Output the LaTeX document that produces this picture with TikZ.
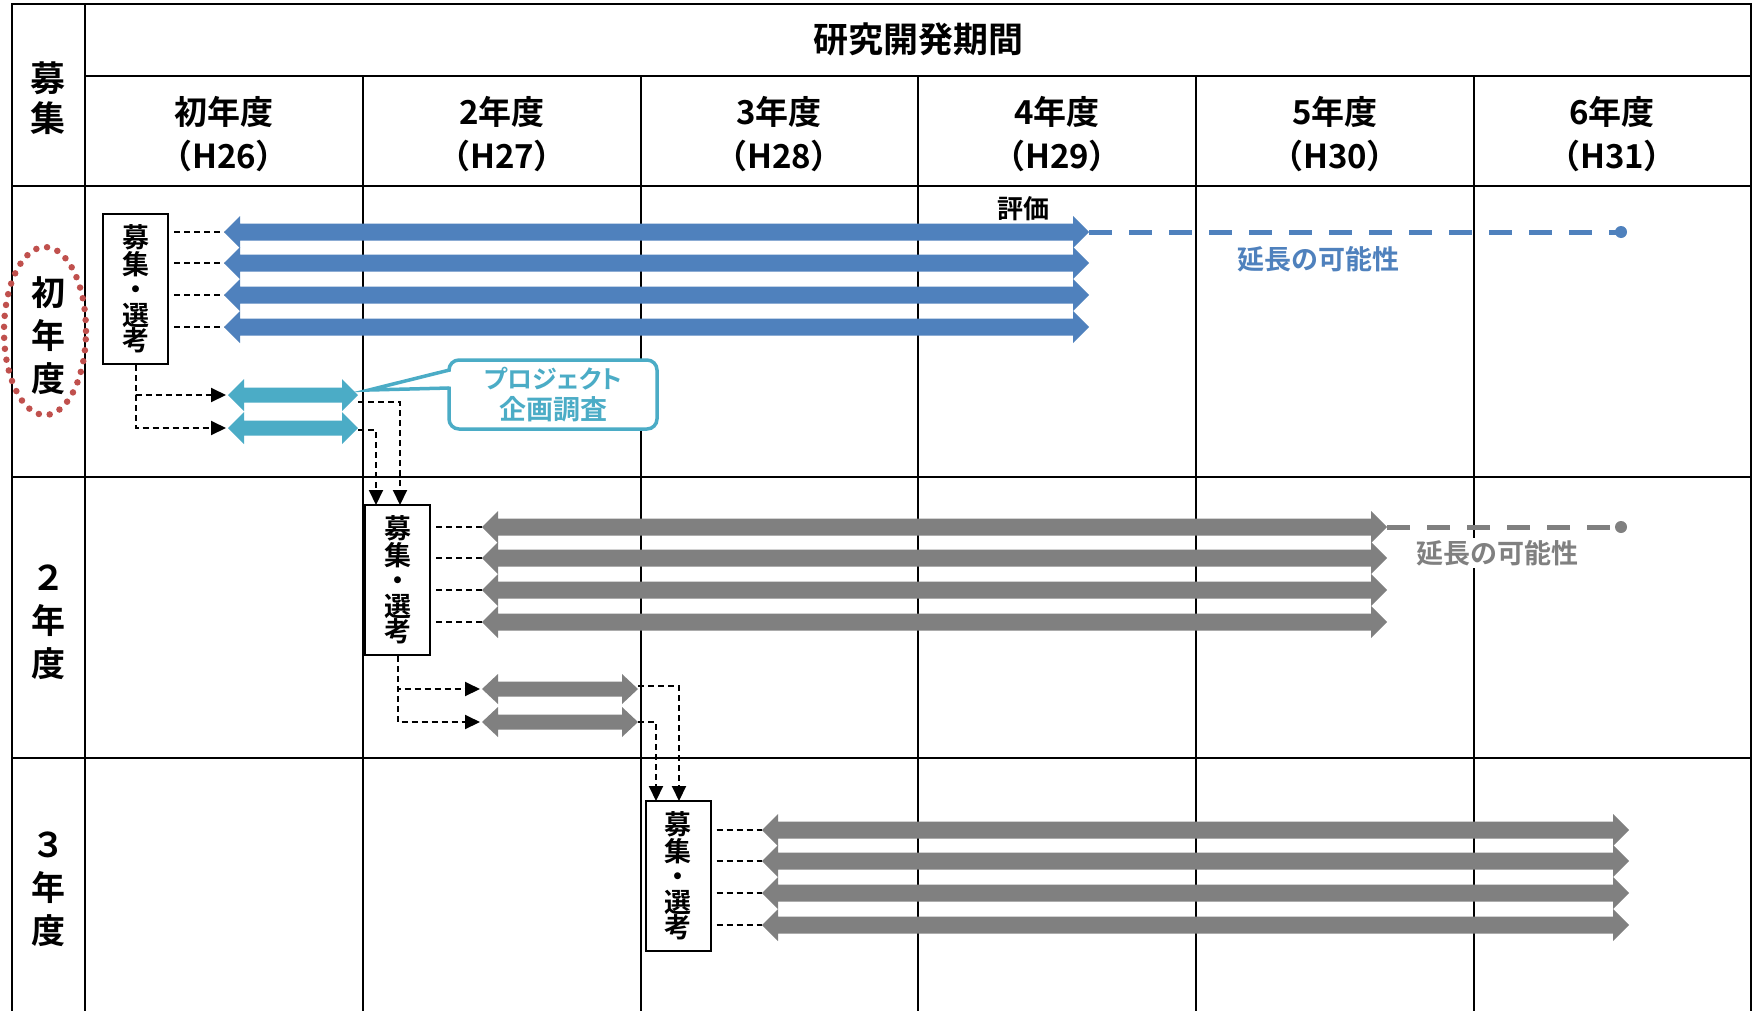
\documentclass[tikz,border=0pt]{standalone}
\usepackage{fontspec}
\setmainfont{Noto Sans CJK JP}[BoldFont={Noto Sans CJK JP Bold}]
\usetikzlibrary{arrows.meta}
\definecolor{cblue}{HTML}{4F81BD}
\definecolor{ccyan}{HTML}{4BACC6}
\definecolor{cgray}{HTML}{808080}
\definecolor{cred}{HTML}{C0504D}
% x1, x2, y, colour, half shaft, half head
\newcommand{\dblarrow}[6]{\fill[#4] (#1,#3) -- (#1+16,#3-#6) -- (#1+16,#3-#5) -- (#2-16,#3-#5) -- (#2-16,#3-#6) -- (#2,#3) -- (#2-16,#3+#6) -- (#2-16,#3+#5) -- (#1+16,#3+#5) -- (#1+16,#3+#6) -- cycle;}
\tikzset{
  grid/.style={line width=2.7pt, black, line cap=rect},
  hdr/.style={align=center, font=\bfseries\fontsize{33}{44}\selectfont, inner sep=0pt},
  vlab/.style={align=center, font=\bfseries\fontsize{34}{43}\selectfont, inner sep=0pt},
  selbox/.style={draw, line width=2pt, fill=white, minimum width=65pt, minimum height=150pt, inner sep=0pt, align=center, font=\bfseries\fontsize{27}{25.5}\selectfont},
  conn/.style={black, line width=2pt, dash pattern=on 6pt off 4pt},
  tip/.style={-{Triangle[length=15pt,width=14pt]}},
  ext/.style={line width=5pt, dash pattern=on 23pt off 17pt},
  lbl/.style={font=\bfseries\fontsize{27}{30}\selectfont, inner sep=2pt},
}
\begin{document}
\begin{tikzpicture}[x=1pt,y=-1pt]
\useasboundingbox (0,0) rectangle (1756,1010);
\fill[white] (0,0) rectangle (1756,1010);
% grid
\draw[grid] (12,1012) -- (12,4) -- (1751,4) -- (1751,1012);
\draw[grid] (85,4) -- (85,1012);
\draw[grid] (85,76) -- (1751,76);
\foreach \y in {186,477,758} \draw[grid] (12,\y) -- (1751,\y);
\foreach \x in {363,641,918,1196,1474} \draw[grid] (\x,76) -- (\x,1012);
% headers
\node[font=\bfseries\fontsize{35}{40}\selectfont, inner sep=0pt] (title) at (918,39) {研究開発期間};
\node[hdr] (h1) at (224,134) {初年度\\（H26）};
\node[hdr] (h2) at (502,134) {2年度\\（H27）};
\node[hdr] (h3) at (779,134) {3年度\\（H28）};
\node[hdr] (h4) at (1057,134) {4年度\\（H29）};
\node[hdr] (h5) at (1335,134) {5年度\\（H30）};
\node[hdr] (h6) at (1612,134) {6年度\\（H31）};
\node[vlab, font=\bfseries\fontsize{35}{40}\selectfont] (boshu) at (48,98) {募\\集};
\node[vlab] (r1) at (48,336) {初\\年\\度};
\node[vlab] (r2) at (48,622) {２\\年\\度};
\node[vlab] (r3) at (48,889) {３\\年\\度};
\draw[cred, line width=6.5pt, dash pattern=on 0pt off 11pt, line cap=round] (45,331) ellipse [x radius=41pt, y radius=84pt];
% selection boxes
\node[selbox] (s1) at (135.5,289) {募\\集\\・\\選\\考};
\node[selbox] (s2) at (397.5,580) {募\\集\\・\\選\\考};
\node[selbox] (s3) at (678,876) {募\\集\\・\\選\\考};
% row 1 arrows
\foreach \n/\y in {1/232,2/263,3/295,4/327} {
  \dblarrow{224}{1089}{\y}{cblue}{8.5}{16}
  \coordinate (b\n) at (224,\y);
  \draw[conn, shorten <=5pt] (s1.east |- b\n) -- (b\n);
}
\coordinate (b1R) at (1089,232);
\coordinate (e1) at (1621,232);
\draw[ext, cblue] (b1R) -- (e1);
\fill[cblue] (e1) circle (6pt);
\node[lbl, text=black, font=\bfseries\fontsize{26}{28}\selectfont] (hyoka) at (1023,209) {評価};
\node[lbl, text=cblue] (ext1) at (1318,259) {延長の可能性};
% project study arrows
\dblarrow{228}{358}{395}{ccyan}{7.5}{16}
\dblarrow{228}{358}{428}{ccyan}{7.5}{16}
\coordinate (c1) at (226,395);
\coordinate (c2) at (226,428);
\draw[conn, tip] (s1.south) |- (c1);
\draw[conn, tip] (s1.south) |- (c2);
% callout
\node[draw=ccyan, line width=3.5pt, fill=white, rounded corners=10pt, minimum width=208pt, minimum height=69pt, inner sep=0pt, text=ccyan, align=center, font=\bfseries\fontsize{25}{31}\selectfont] (co) at (553,394.5) {{\addfontfeatures{RawFeature=+palt}プロジェクト}\\{\fontsize{27}{31}\selectfont 企画調査}};
\fill[white] (451,371.5) -- (369,390) -- (451,386.5) -- cycle;
\draw[ccyan, line width=3.5pt, line join=miter] (449.5,370) -- (369,390) -- (449.5,388);
% cyan to box 2
\coordinate (k1) at (358,402);
\coordinate (k2) at (358,430);
\coordinate (s2a) at (400,505);
\coordinate (s2b) at (376,505);
\draw[conn, tip] (k1) -| (s2a);
\draw[conn, tip] (k2) -| (s2b);
% row 2 arrows
\foreach \n/\y in {1/527,2/558,3/590,4/622} {
  \dblarrow{482}{1387}{\y}{cgray}{8.5}{16}
  \coordinate (g\n) at (482,\y);
  \draw[conn, shorten <=5pt] (s2.east |- g\n) -- (g\n);
}
\coordinate (g1R) at (1387,527);
\coordinate (e2) at (1621,527);
\draw[ext, cgray] (g1R) -- (e2);
\fill[cgray] (e2) circle (6pt);
\node[lbl, text=cgray, fill=white] (ext2) at (1497,553) {延長の可能性};
\dblarrow{482}{638}{689}{cgray}{7.5}{15}
\dblarrow{482}{638}{722}{cgray}{7.5}{15}
\coordinate (t1) at (480,689);
\coordinate (t2) at (480,722);
\draw[conn, tip] (s2.south) |- (t1);
\draw[conn, tip] (s2.south) |- (t2);
\coordinate (m1) at (638,686);
\coordinate (m2) at (638,722);
\coordinate (s3a) at (679,801);
\coordinate (s3b) at (656,801);
\draw[conn, tip] (m1) -| (s3a);
\draw[conn, tip] (m2) -| (s3b);
% row 3 arrows
\foreach \n/\y in {1/830,2/861,3/893,4/925} {
  \dblarrow{762}{1629}{\y}{cgray}{8.5}{16}
  \coordinate (q\n) at (762,\y);
  \draw[conn, shorten <=5pt] (s3.east |- q\n) -- (q\n);
}
\end{tikzpicture}
\end{document}
